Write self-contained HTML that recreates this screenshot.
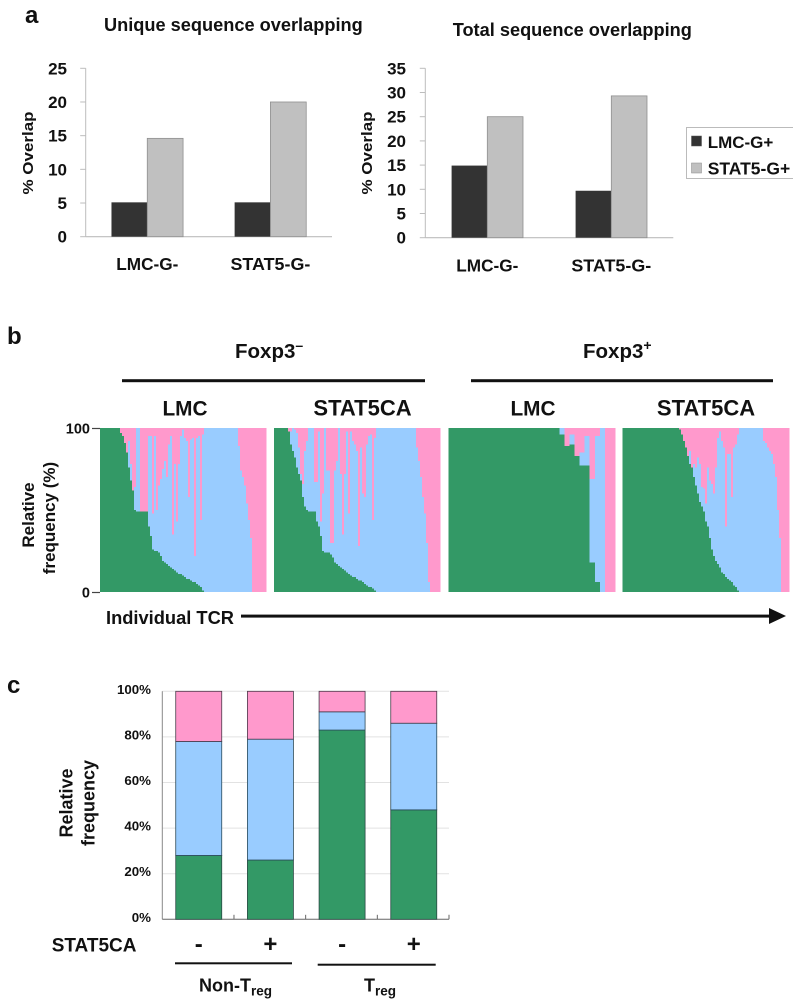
<!DOCTYPE html>
<html lang="en">
<head>
<meta charset="utf-8">
<title>TCR overlap and relative frequency</title>
<style>
html,body{margin:0;padding:0;background:#fff;width:800px;height:1006px;overflow:hidden}
svg{display:block}
text{font-family:"Liberation Sans",Arial,sans-serif;font-weight:bold;fill:#111}
</style>
</head>
<body>
<svg id="fig" xmlns="http://www.w3.org/2000/svg" width="800" height="1006" viewBox="0 0 800 1006">
  <g id="panelA1"></g>
  <g id="panelA2"></g>
  <g id="panelB"></g>
  <g id="panelC"></g>

  <text x="25" y="23" font-size="24">a</text>
  <text x="7" y="344" font-size="24">b</text>
  <text x="7" y="693" font-size="24">c</text>

  <text x="104" y="31" font-size="18.2">Unique sequence overlapping</text>
  <text x="452.7" y="36" font-size="18.2">Total sequence overlapping</text>
  <text transform="translate(33,153) rotate(-90) scale(1,0.88)" text-anchor="middle" font-size="17">% Overlap</text>
  <text transform="translate(372,153) rotate(-90) scale(1,0.88)" text-anchor="middle" font-size="17">% Overlap</text>

  <g>
    <path d="M793 127.5H686.5V178.5H793" fill="#fff" stroke="#bbb" stroke-width="1"/>
    <rect x="691.5" y="136" width="10" height="10" fill="#333" stroke="#555" stroke-width="0.5"/>
    <text x="707.7" y="148" font-size="17">LMC-G+</text>
    <rect x="691.5" y="163" width="10" height="10" fill="#c0c0c0" stroke="#888" stroke-width="0.5"/>
    <text x="707.7" y="174.5" font-size="17.5">STAT5-G+</text>
  </g>

  <text x="235" y="358" font-size="20.5">Foxp3<tspan dy="-8" font-size="14">–</tspan></text>
  <text x="583" y="358" font-size="20.5">Foxp3<tspan dy="-8" font-size="14">+</tspan></text>
  <rect x="122" y="379.2" width="303" height="3" fill="#111"/>
  <rect x="471" y="379.2" width="302" height="3" fill="#111"/>
  <text x="185" y="415.5" text-anchor="middle" font-size="20.8">LMC</text>
  <text x="362.5" y="415.5" text-anchor="middle" font-size="22">STAT5CA</text>
  <text x="533" y="415.5" text-anchor="middle" font-size="20.8">LMC</text>
  <text x="706" y="415.5" text-anchor="middle" font-size="22">STAT5CA</text>

  <text transform="translate(34,515) rotate(-90)" text-anchor="middle" font-size="17">Relative</text>
  <text transform="translate(55,518) rotate(-90)" text-anchor="middle" font-size="17">frequency (%)</text>
  <text x="106" y="624" font-size="18.3">Individual TCR</text>
  <rect x="241" y="614.6" width="530" height="3" fill="#111"/>
  <polygon points="769,608 786,616 769,624" fill="#111"/>

  <text transform="translate(72.7,803) rotate(-90)" text-anchor="middle" font-size="18">Relative</text>
  <text transform="translate(94.5,803) rotate(-90)" text-anchor="middle" font-size="18">frequency</text>
  <text x="51.7" y="951.7" font-size="19">STAT5CA</text>
  <rect x="175" y="962.3" width="117" height="2" fill="#111"/>
  <rect x="317.7" y="963.7" width="118" height="2" fill="#111"/>
  <text x="199" y="991.7" font-size="18">Non-T<tspan dy="4" font-size="13.5">reg</tspan></text>
  <text x="364" y="991.7" font-size="18">T<tspan dy="4" font-size="13.5">reg</tspan></text>
</svg>

<script>
// ----- Panel a data -----
const overlapCategories = ['LMC-G-', 'STAT5-G-'];
const uniqueLmc = [5.1, 5.1];
const uniqueStat5 = [14.6, 20];
const uniqueTicks = [0, 5, 10, 15, 20, 25];
const totalLmc = [14.9, 9.7];
const totalStat5 = [25, 29.3];
const totalTicks = [0, 5, 10, 15, 20, 25, 30, 35];

// ----- Panel b data: per-TCR green share and pink share (%), blue is the remainder -----
const bLmcNegGreen = [100,100,100,100,100,100,100,100,100,100,97,95,91,85,76,68,62,50,49,49,49,49,49,49,40,34,26,25,25,24,22,19,18,17,16,15,14,13,12,11,11,10,9,8,8,7,6,6,5,4,3,1,0,0,0,0,0,0,0,0,0,0,0,0,0,0,0,0,0,0,0,0,0,0,0,0,0,0,0,0,0,0,0];
const bLmcNegPink = [0,0,0,0,0,0,0,0,0,0,3,5,9,15,8,22,38,36,0,0,51,51,51,51,5,5,52,5,50,35,31,25,20,30,10,5,65,22,57,22,5,1,6,8,42,7,6,78,6,5,56,4,0,0,0,0,0,0,0,0,0,0,0,0,0,0,0,0,0,11,26,30,35,46,56,67,100,100,100,100,100,100,100];
const bStatNegGreen = [100,100,100,100,100,100,100,98,90,86,82,76,72,68,58,52,50,49,49,49,49,43,40,34,25,24,24,24,23,21,18,17,16,15,14,13,12,11,10,9,9,8,7,7,6,5,4,3,3,2,1,0,0,0,0,0,0,0,0,0,0,0,0,0,0,0,0,0,0,0,0,0,0,0,0,0,0,0,0,0,0,0,0];
const bStatNegPink = [0,0,0,0,0,0,0,2,2,0,1,3,12,28,34,14,8,0,0,0,33,33,2,57,40,0,26,26,70,70,26,20,0,28,65,28,2,52,2,8,10,14,72,12,40,42,10,5,4,56,6,0,0,0,0,0,0,0,0,0,0,0,0,0,0,0,0,0,0,0,0,12,20,30,42,52,70,94,100,100,100,100,100];
const bLmcPosGreen = [100,100,100,100,100,100,100,100,100,100,100,100,100,100,100,100,100,100,100,100,100,100,96,89,90,83,77,77,18,6,0,0,0];
const bLmcPosPink = [0,0,0,0,0,0,0,0,0,0,0,0,0,0,0,0,0,0,0,0,0,0,0,11,4,17,15,5,31,5,0,100,100];
const bStatPosGreen = [100,100,100,100,100,100,100,100,100,100,100,100,100,100,100,100,100,100,100,100,100,100,100,100,100,100,100,100,99,96,92,88,83,78,76,70,65,60,55,52,49,43,40,33,26,22,19,17,15,12,11,9,8,7,6,4,3,1,0,0,0,0,0,0,0,0,0,0,0,0,0,0,0,0,0,0,0,0,0,0,0,0,0];
const bStatPosPink = [0,0,0,0,0,0,0,0,0,0,0,0,0,0,0,0,0,0,0,0,0,0,0,0,0,0,0,0,1,4,8,12,17,14,24,22,24,18,22,36,37,46,24,32,34,40,24,6,2,8,12,60,16,16,42,12,10,4,0,0,0,0,0,0,0,0,0,0,0,0,8,9,12,14,16,22,30,50,67,100,100,100,100];
const bTickLabels = [0, 100];

// ----- Panel c data -----
const cCategories = ['-', '+', '-', '+'];
const cGreen = [28, 26, 83, 48];
const cBlue = [50, 53, 8, 38];
const cPink = [22, 21, 9, 14];
const cTicks = [0, 20, 40, 60, 80, 100];

const SVGNS = 'http://www.w3.org/2000/svg';
const GREEN = '#339966', BLUE = '#99ccff', PINK = '#ff99cc';

function rect(parent, x, y, w, h, fill, stroke) {
  const el = document.createElementNS(SVGNS, 'rect');
  el.setAttribute('x', x);
  el.setAttribute('y', y);
  el.setAttribute('width', w);
  el.setAttribute('height', h);
  el.setAttribute('fill', fill);
  if (stroke) {
    el.setAttribute('stroke', stroke);
    el.setAttribute('stroke-width', '0.8');
  }
  parent.appendChild(el);
  return el;
}
function line(parent, x1, y1, x2, y2, stroke, sw) {
  const el = document.createElementNS(SVGNS, 'line');
  el.setAttribute('x1', x1);
  el.setAttribute('y1', y1);
  el.setAttribute('x2', x2);
  el.setAttribute('y2', y2);
  el.setAttribute('stroke', stroke);
  el.setAttribute('stroke-width', sw);
  parent.appendChild(el);
  return el;
}
function label(parent, x, y, str, size, anchor) {
  const el = document.createElementNS(SVGNS, 'text');
  el.setAttribute('x', x);
  el.setAttribute('y', y);
  el.setAttribute('font-size', size);
  el.setAttribute('text-anchor', anchor);
  el.textContent = str;
  parent.appendChild(el);
  return el;
}

// ----- Panel a drawing -----
function drawOverlap(group, prefix, left, right, top, bottom, maxVal, ticks, seriesA, seriesB, tickRight, barWidth, catY) {
  const yScale = v => bottom - (v / maxVal) * (bottom - top);
  const band = (right - left) / overlapCategories.length;
  const xCenter = i => left + band * (i + 0.5);
  const axis = line(group, left, top, left, bottom, '#bdbdbd', 1);
  
  
  const xAxis = line(group, left, bottom, right, bottom, '#bdbdbd', 1.2);
  
  
  ticks.forEach(t => {
    const tk = line(group, left - 5.5, yScale(t), left, yScale(t), '#bdbdbd', 1);
    
    
    const lb = label(group, tickRight, yScale(t) + 6, String(t), 17, 'end');
    
    
  });
  overlapCategories.forEach((c, i) => {
    const a = rect(group, xCenter(i) - barWidth, yScale(seriesA[i]), barWidth, bottom - yScale(seriesA[i]), '#333333');
    
    
    const b = rect(group, xCenter(i), yScale(seriesB[i]), barWidth, bottom - yScale(seriesB[i]), '#c0c0c0', '#8f8f8f');
    
    
    const lb = label(group, xCenter(i), catY, c, c.length > 6 ? 17.9 : 17.2, 'middle');
    
    
  });
}
drawOverlap(document.getElementById('panelA1'), 'unique', 85.7, 332, 68.3, 236.7, 25, uniqueTicks, uniqueLmc, uniqueStat5, 67, 35.8, 270);
drawOverlap(document.getElementById('panelA2'), 'total', 425.3, 673.3, 68.3, 237.7, 35, totalTicks, totalLmc, totalStat5, 406, 35.7, 271.7);

// ----- Panel b drawing -----
const bTop = 428, bBottom = 592;
const bY = v => bBottom - (v / 100) * (bBottom - bTop);
function drawTcrPanel(name, left, right, green, pink) {
  const g = document.createElementNS(SVGNS, 'g');
  
  
  g.setAttribute('shape-rendering', 'crispEdges');
  document.getElementById('panelB').appendChild(g);
  const w = (right - left) / green.length;
  const xAt = i => left + i * w;
  green.forEach((gv, i) => {
    const pv = pink[i];
    const bv = Math.max(0, 100 - gv - pv);
    const x = xAt(i);
    const cw = xAt(i + 1) - x + 0.4;
    if (gv > 0) {
      const r = rect(g, x, bY(gv), cw, bBottom - bY(gv), GREEN);
      
      
    }
    if (bv > 0) {
      const r = rect(g, x, bY(gv + bv), cw, bY(gv) - bY(gv + bv), BLUE);
      
      
    }
    if (pv > 0) {
      const r = rect(g, x, bY(100), cw, bY(100 - pv) - bY(100), PINK);
      
      
    }
  });
}
drawTcrPanel('lmc-foxp3-negative', 100, 266, bLmcNegGreen, bLmcNegPink);
drawTcrPanel('stat5ca-foxp3-negative', 274, 440, bStatNegGreen, bStatNegPink);
drawTcrPanel('lmc-foxp3-positive', 448.3, 615, bLmcPosGreen, bLmcPosPink);
drawTcrPanel('stat5ca-foxp3-positive', 622.7, 789, bStatPosGreen, bStatPosPink);
bTickLabels.forEach(t => {
  const pb = document.getElementById('panelB');
  const tk = line(pb, 92, bY(t) + 0.5, 100, bY(t) + 0.5, '#444', 1.2);
  
  
  const lb = label(pb, 90, bY(t) + 5.5, String(t), 14.5, 'end');
  
  
});

// ----- Panel c drawing -----
(function () {
  const group = document.getElementById('panelC');
  const left = 162.3, right = 449, top = 691.3, bottom = 919.3, barW = 46;
  const yScale = v => bottom - (v / 100) * (bottom - top);
  const band = (right - left) / cCategories.length;
  const xCenter = i => left + band * (i + 0.5);
  cTicks.forEach(t => {
    if (t > 0) {
      const gl = line(group, left, yScale(t), right, yScale(t), '#e2e2e2', 1);
      
      
    }
    const lb = label(group, 151, yScale(t) + 2.5, t + '%', 13.3, 'end');
    
    
  });
  const ya = line(group, left, top, left, bottom, '#888', 1);
  
  
  const xa = line(group, left, bottom, right, bottom, '#666', 1);
  
  
  cCategories.forEach((c, i) => {
    const tickX = left + band * (i + 1);
    const tk = line(group, tickX, bottom - 4.5, tickX, bottom, '#666', 1);
    
    
    const x = xCenter(i) - barW / 2 + 0.6;
    const g1 = rect(group, x, yScale(cGreen[i]), barW, bottom - yScale(cGreen[i]), GREEN, '#2a4a44');
    
    
    const b1 = rect(group, x, yScale(cGreen[i] + cBlue[i]), barW, yScale(cGreen[i]) - yScale(cGreen[i] + cBlue[i]), BLUE, '#2a4a5a');
    
    
    const total = cGreen[i] + cBlue[i] + cPink[i];
    const p1 = rect(group, x, yScale(total), barW, yScale(cGreen[i] + cBlue[i]) - yScale(total), PINK, '#4a3a4a');
    
    
    const lb = label(group, xCenter(i) + 0.6, 952, c, 24, 'middle');
    
    
  });
})();
</script>
</body>
</html>
